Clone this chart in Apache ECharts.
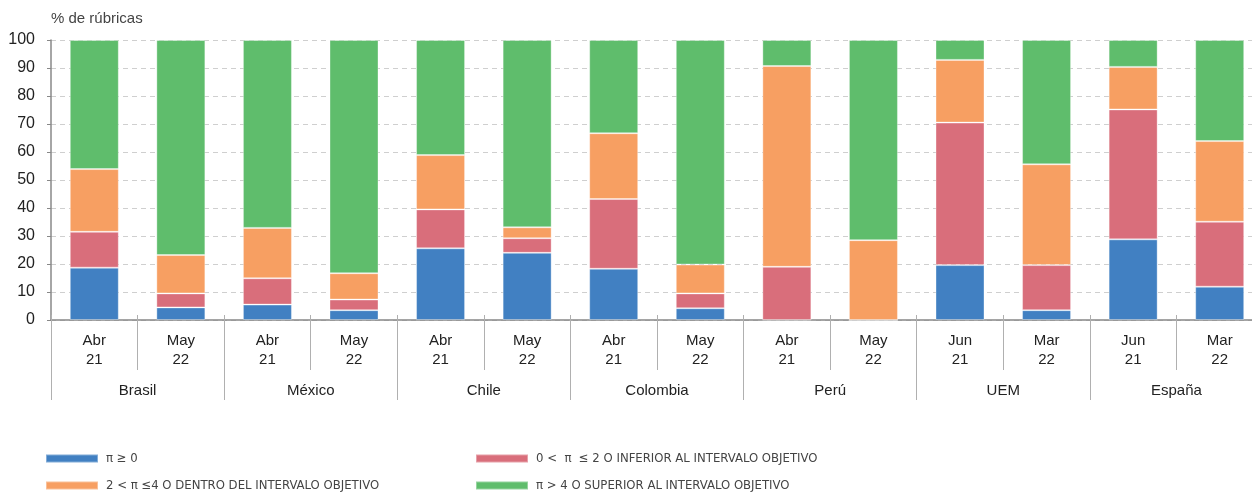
<!DOCTYPE html>
<html>
<head>
<meta charset="utf-8">
<title>% de rúbricas</title>
<script src="https://cdn.jsdelivr.net/npm/echarts@6/dist/echarts.min.js"></script>
<style>
	html, body { margin: 0; padding: 0; background: #fff; }
	#chart { width: 1252px; height: 495px; }
</style>
</head>
<body>
<div id="chart"></div>
<script type="text/javascript">
// etiquetas de fecha por barra y países (segundo nivel)
var periods = ['Abr\n21', 'May\n22', 'Abr\n21', 'May\n22', 'Abr\n21', 'May\n22', 'Abr\n21', 'May\n22', 'Abr\n21', 'May\n22', 'Jun\n21', 'Mar\n22', 'Jun\n21', 'Mar\n22'];
var countries = ['Brasil', 'México', 'Chile', 'Colombia', 'Perú', 'UEM', 'España'];
var yTicks = [0, 10, 20, 30, 40, 50, 60, 70, 80, 90, 100];

// % de rúbricas en cada tramo
var serieNames = ['π ≥ 0', '0 <  π  ≤ 2 O INFERIOR AL INTERVALO OBJETIVO', '2 < π ≤4 O DENTRO DEL INTERVALO OBJETIVO', 'π > 4 O SUPERIOR AL INTERVALO OBJETIVO'];
var blueVals   = [18.7, 4.5, 5.5, 3.5, 25.6, 24.0, 18.3, 4.2, 0, 0, 19.6, 3.5, 28.8, 11.9];
var redVals    = [12.8, 5.0, 9.4, 3.8, 13.9, 5.2, 24.9, 5.3, 19.0, 0, 50.9, 16.1, 46.4, 23.2];
var orangeVals = [22.4, 13.7, 18.0, 9.4, 19.4, 3.9, 23.5, 10.3, 71.7, 28.5, 22.4, 36.0, 15.2, 28.8];
var greenVals  = [46.1, 76.8, 67.1, 83.3, 41.1, 66.9, 33.3, 80.2, 9.3, 71.5, 7.1, 44.4, 9.6, 36.1];

var colors = ['#4180c2', '#d96e7b', '#f79f62', '#5fbd6c'];
var font = '"Liberation Sans", Arial, sans-serif';
var narrow = '"Liberation Sans Narrow", "DejaVu Sans Condensed", "Liberation Sans", sans-serif';

var myChart = echarts.init(document.getElementById('chart'), null, { renderer: 'canvas' });

function barSerie(idx, vals) {
	return {
		name: serieNames[idx],
		type: 'bar',
		stack: 'total',
		barWidth: 49,
		data: vals,
		itemStyle: {
			color: colors[idx],
			borderColor: 'rgba(255,255,255,0.35)',
			borderWidth: 1
		},
		emphasis: { disabled: true }
	};
}

function legendItem(idx, left, top) {
	return {
		data: [serieNames[idx]],
		left: left,
		top: top,
		padding: 0,
		icon: 'rect',
		itemWidth: 52,
		itemHeight: 8,
		selectedMode: false,
		textStyle: { fontFamily: narrow, fontSize: 13, color: '#444', padding: [0, 0, 0, 3] }
	};
}

var option = {
	animation: false,
	title: {
		text: '% de rúbricas',
		left: 51,
		top: 11,
		padding: 0,
		textStyle: { fontFamily: font, fontSize: 15, fontWeight: 'normal', color: '#444' }
	},
	legend: [
		legendItem(0, 45, 452),
		legendItem(1, 475, 452),
		legendItem(2, 45, 479),
		legendItem(3, 475, 479)
	],
	// la última categoría queda cortada por el borde derecho, como en el original
	grid: { left: 51, right: -11, top: 40, bottom: 175, containLabel: false, outerBoundsMode: 'none' },
	xAxis: [
		{
			type: 'category',
			data: periods,
			position: 'bottom',
			axisLine: { lineStyle: { color: '#888', width: 1.5 } },
			axisTick: { show: true, interval: 0, length: 50, lineStyle: { color: '#b0b0b0' } },
			axisLabel: { interval: 0, margin: 11, fontFamily: font, fontSize: 15, lineHeight: 19, color: '#222' }
		},
		{
			type: 'category',
			data: countries,
			position: 'bottom',
			axisLine: { show: false },
			axisTick: { show: true, interval: 0, length: 80, lineStyle: { color: '#b0b0b0' } },
			axisLabel: { interval: 0, margin: 61, fontFamily: font, fontSize: 15, lineHeight: 19, color: '#222' }
		},
		{
			type: 'category',
			data: periods,
			position: 'bottom',
			axisLine: { show: false },
			axisTick: { show: true, inside: true, interval: 0, length: 5, lineStyle: { color: '#b0b0b0' } },
			axisLabel: { show: false }
		}
	],
	yAxis: {
		type: 'value',
		min: yTicks[0],
		max: yTicks[yTicks.length - 1],
		interval: 10,
		axisLine: { show: true, lineStyle: { color: '#888', width: 1.5 } },
		axisTick: { show: true, length: 4, lineStyle: { color: '#888' } },
		axisLabel: { margin: 16, fontFamily: font, fontSize: 16, color: '#222' },
		splitLine: { show: true, lineStyle: { color: '#cfcfcf', type: [5, 4], width: 1 } }
	},
	series: [
		barSerie(0, blueVals),
		barSerie(1, redVals),
		barSerie(2, orangeVals),
		barSerie(3, greenVals)
	]
};
myChart.setOption(option);
</script>
</body>
</html>
